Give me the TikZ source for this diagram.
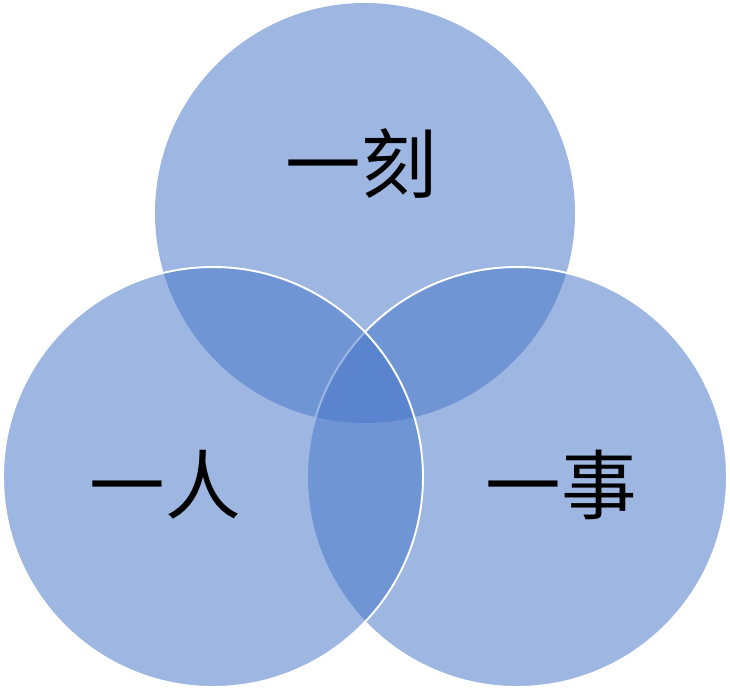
\documentclass[tikz,border=0pt]{standalone}
\usepackage{fontspec}
\newfontfamily\cjk{Noto Sans CJK SC}
\usetikzlibrary{calc,positioning}

\begin{document}
\begin{tikzpicture}[
  x=0.02cm,
  y=-0.02cm,
  font=\cjk\fontsize{43}{43}\selectfont
]
  \definecolor{vennblue}{RGB}{70,118,200}

  \def\rad{210}
  \def\op{0.52}

  % canvas as in the reference
  \useasboundingbox (0,0) rectangle (730,690);
  \fill[white] (0,0) rectangle (730,690);

  % circle centres
  \coordinate (ctop) at (365,213);
  \coordinate (cleft) at (213,477);
  \coordinate (cright) at (517,477);

  % translucent circles, white rims
  \fill[vennblue, fill opacity=\op] (ctop) circle (\rad);
  \fill[vennblue, fill opacity=\op] (cright) circle (\rad);
  \draw[white, line width=1.1pt] (cright) circle (\rad);
  \fill[vennblue, fill opacity=\op] (cleft) circle (\rad);
  \draw[white, line width=1.1pt] (cleft) circle (\rad);

  % labels
  \node[inner sep=0pt] (moment) at (361,164) {一刻};
  \node[inner sep=0pt] (person) at (165,485) {一人};
  \node[inner sep=0pt] (matter) at (561,485) {一事};
\end{tikzpicture}
\end{document}
